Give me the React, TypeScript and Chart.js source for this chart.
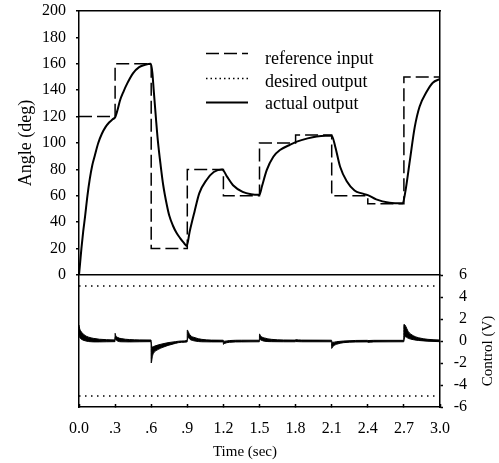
import React, { useEffect, useRef } from "react";
import { Chart, registerables } from "chart.js";

Chart.register(...registerables);

const SERIF = "'Liberation Serif', 'Times New Roman', serif";

// x-axis tick labels
const xTickLabels = ["0.0", ".3", ".6", ".9", "1.2", "1.5", "1.8", "2.1", "2.4", "2.7", "3.0"];

// reference input (step values, held until next time)
const refTime = [0, 0.3, 0.6, 0.9, 1.2, 1.5, 1.8, 2.1, 2.4, 2.7, 3.0];
const refAngle = [120, 160, 20, 80, 60, 100, 106, 60, 54, 150, 150];

// actual output angle (deg)
const outTime = [
  0, 0.01, 0.02, 0.035, 0.05, 0.07, 0.09, 0.11, 0.13, 0.16, 0.19, 0.22, 0.25, 0.28, 0.3,
  0.32, 0.34, 0.37, 0.4, 0.45, 0.5, 0.55, 0.597,
  0.61, 0.62, 0.64, 0.655, 0.68, 0.7, 0.73, 0.75, 0.78, 0.81, 0.84, 0.87, 0.895,
  0.92, 0.96, 1.0, 1.06, 1.12, 1.19,
  1.23, 1.28, 1.36, 1.43, 1.5,
  1.52, 1.56, 1.615, 1.67, 1.75, 1.81, 1.9, 1.975, 2.05, 2.1,
  2.13, 2.17, 2.225, 2.29, 2.35, 2.4, 2.47, 2.58, 2.69,
  2.71, 2.75, 2.79, 2.83, 2.89, 2.94, 3.0,
];
const outAngle = [
  0, 10, 20, 33, 44, 60, 73, 83, 90, 100, 107, 112, 115.5, 118, 119.5,
  125, 132, 139, 145, 153, 157.5, 159.3, 160,
  153, 141, 118, 102, 82, 68, 53, 45, 37.5, 32, 28, 24.5, 22,
  33, 48, 62, 72, 78, 80,
  74.5, 68, 63, 61.2, 60.8,
  67, 79.5, 89.6, 94.7, 98.5, 101, 103.5, 105, 105.5, 105.5,
  97, 82, 71, 64, 61.8, 60.5, 57.3, 54.8, 54.3,
  62, 87, 112, 127.5, 139, 145.7, 148.5,
];

// control signal band (V): upper and lower envelope of the chattering signal
const ctrlTime = [
  0, 0.005, 0.015, 0.03, 0.05, 0.08, 0.12, 0.17, 0.23, 0.299,
  0.3, 0.305, 0.32, 0.35, 0.42, 0.5, 0.599,
  0.6, 0.61, 0.62, 0.66, 0.69, 0.74, 0.8, 0.85, 0.899,
  0.9, 0.91, 0.922, 0.964, 1.02, 1.1, 1.199,
  1.2, 1.21, 1.25, 1.35, 1.499,
  1.5, 1.51, 1.54, 1.6, 1.7, 1.799,
  1.8, 1.85, 2.099,
  2.1, 2.11, 2.14, 2.2, 2.3, 2.399,
  2.4, 2.45, 2.699,
  2.7, 2.709, 2.737, 2.778, 2.82, 2.9, 3.0,
];
const ctrlUpper = [
  1.45, 1.15, 0.9, 0.7, 0.5, 0.35, 0.24, 0.16, 0.12, 0.1,
  0.7, 0.5, 0.33, 0.22, 0.13, 0.1, 0.09,
  -0.1, -0.55, -0.5, -0.35, -0.27, -0.15, -0.06, 0.0, 0.05,
  1.0, 0.8, 0.55, 0.3, 0.15, 0.08, 0.07,
  0.0, -0.02, 0.04, 0.07, 0.07,
  0.64, 0.45, 0.28, 0.15, 0.09, 0.08,
  0.12, 0.08, 0.07,
  0.0, -0.12, -0.06, 0.0, 0.05, 0.06,
  0.04, 0.06, 0.06,
  1.5, 1.45, 0.85, 0.48, 0.3, 0.15, 0.09,
];
const ctrlLower = [
  0.5, 0.35, 0.2, 0.1, 0.02, -0.05, -0.08, -0.08, -0.07, -0.06,
  0.3, 0.15, 0.0, -0.07, -0.08, -0.07, -0.06,
  -2.0, -1.4, -1.1, -0.76, -0.6, -0.4, -0.22, -0.12, -0.08,
  0.1, 0.3, 0.15, 0.0, -0.07, -0.08, -0.08,
  -0.3, -0.22, -0.12, -0.08, -0.07,
  0.15, 0.1, -0.02, -0.06, -0.07, -0.07,
  -0.05, -0.07, -0.07,
  -0.67, -0.5, -0.3, -0.15, -0.09, -0.08,
  -0.12, -0.08, -0.07,
  0.0, 0.4, 0.24, 0.12, 0.05, -0.02, -0.06,
];

// control saturation limits (V)
const limitTime = [0, 3];
const limitHigh = [5, 5];
const limitLow = [-5, -5];

const legendLabels = ["reference input", "desired output", "actual output"];
const xTitle = "Time (sec)";
const yTitle = "Angle (deg)";
const y2Title = "Control (V)";

const pts = (xs: number[], ys: number[]) => xs.map((x, i) => ({ x, y: ys[i] }));

const overlay = {
  id: "overlay",
  afterDraw(chart: any) {
    const { ctx, chartArea } = chart;
    const L = chartArea.left;
    const T = chartArea.top;
    ctx.save();
    ctx.strokeStyle = "#000";
    ctx.fillStyle = "#000";
    const dashes = [[13, 5], [1.5, 3], []];
    const lineY = [42.5, 67.5, 91.5];
    const textY = [53, 76, 98];
    for (let i = 0; i < 3; i++) {
      ctx.beginPath();
      ctx.setLineDash(dashes[i]);
      ctx.lineWidth = i === 2 ? 2 : 1.5;
      ctx.moveTo(L + 127, T + lineY[i]);
      ctx.lineTo(L + 169, T + lineY[i]);
      ctx.stroke();
    }
    ctx.setLineDash([]);
    ctx.font = `18px ${SERIF}`;
    ctx.textAlign = "left";
    ctx.textBaseline = "alphabetic";
    for (let i = 0; i < 3; i++) ctx.fillText(legendLabels[i], L + 186, T + textY[i]);

    ctx.font = `15px ${SERIF}`;
    ctx.textAlign = "center";
    ctx.textBaseline = "middle";
    ctx.fillText(xTitle, L + 166, chartArea.bottom + 45);

    ctx.translate(chartArea.right + 48, chartArea.bottom - 56);
    ctx.rotate(-Math.PI / 2);
    ctx.fillText(y2Title, 0, 0);
    ctx.restore();
  },
};

const fixW = (w: number) => (s: any) => {
  s.width = w;
  s.paddingTop = 0;
  s.paddingBottom = 0;
  s.paddingLeft = 0;
  s.paddingRight = 0;
};
const fixH = (h: number) => (s: any) => {
  s.height = h;
  s.paddingTop = 0;
  s.paddingBottom = 0;
  s.paddingLeft = 0;
  s.paddingRight = 0;
};

export default function App() {
  const ref = useRef<HTMLCanvasElement>(null);
  useEffect(() => {
    const font = { family: SERIF, size: 16 };
    const border = { display: true, color: "#000", width: 1.5 };
    const chart = new Chart(ref.current as HTMLCanvasElement, {
      type: "line",
      data: {
        datasets: [
          {
            label: "reference input",
            data: pts(refTime, refAngle),
            yAxisID: "yTop",
            stepped: "before",
            borderColor: "#000",
            borderWidth: 1.5,
            borderDash: [13, 5],
            pointRadius: 0,
            fill: false,
          },
          {
            label: "actual output",
            data: pts(outTime, outAngle),
            yAxisID: "yTop",
            borderColor: "#000",
            borderWidth: 2,
            cubicInterpolationMode: "monotone",
            pointRadius: 0,
            fill: false,
          },
          {
            label: "upper limit",
            data: pts(limitTime, limitHigh),
            yAxisID: "yBot",
            borderColor: "#000",
            borderWidth: 1.5,
            borderDash: [1.5, 4.5],
            pointRadius: 0,
            fill: false,
          },
          {
            label: "lower limit",
            data: pts(limitTime, limitLow),
            yAxisID: "yBot",
            borderColor: "#000",
            borderWidth: 1.5,
            borderDash: [1.5, 4.5],
            pointRadius: 0,
            fill: false,
          },
          {
            label: "control upper",
            data: pts(ctrlTime, ctrlUpper),
            yAxisID: "yBot",
            borderColor: "#000",
            backgroundColor: "#000",
            borderWidth: 1,
            cubicInterpolationMode: "monotone",
            pointRadius: 0,
            fill: "+1",
          },
          {
            label: "control lower",
            data: pts(ctrlTime, ctrlLower),
            yAxisID: "yBot",
            borderColor: "#000",
            borderWidth: 1,
            cubicInterpolationMode: "monotone",
            pointRadius: 0,
            fill: false,
          },
        ],
      },
      options: {
        animation: false,
        responsive: false,
        devicePixelRatio: 1,
        events: [],
        layout: { padding: { top: 11, right: 32, bottom: 0, left: 0 } },
        plugins: { legend: { display: false }, tooltip: { enabled: false } },
        scales: {
          x: {
            type: "linear",
            position: "bottom",
            min: 0,
            max: 3,
            afterFit: fixH(56),
            ticks: {
              stepSize: 0.3,
              autoSkip: false,
              maxRotation: 0,
              padding: 15,
              color: "#000",
              font,
              callback: (_v: any, i: number) => xTickLabels[i] ?? "",
            },
            grid: { drawOnChartArea: false, drawTicks: true, tickLength: -3, tickColor: "#000", tickWidth: 1.5 },
            border,
          },
          x2: {
            type: "linear",
            position: "top",
            min: 0,
            max: 3,
            afterFit: fixH(0),
            ticks: { display: false },
            grid: { drawOnChartArea: false, drawTicks: false },
            border,
          },
          yBotLeft: {
            type: "linear",
            position: "left",
            stack: "left",
            stackWeight: 1,
            min: 0,
            max: 1,
            afterFit: fixW(79),
            ticks: { display: false },
            grid: { drawOnChartArea: false, drawTicks: false },
            border,
          },
          yTop: {
            type: "linear",
            position: "left",
            stack: "left",
            stackWeight: 2,
            min: 0,
            max: 200,
            afterFit: fixW(79),
            ticks: { stepSize: 20, autoSkip: false, padding: 10, color: "#000", font },
            grid: {
              drawOnChartArea: true,
              color: (c: any) => (c.tick && c.tick.value === 0 ? "#000" : "rgba(0,0,0,0)"),
              lineWidth: 1.5,
              tickLength: 3,
              tickColor: "#000",
              tickWidth: 1.5,
            },
            border,
            title: {
              display: true,
              text: yTitle,
              color: "#000",
              font: { family: SERIF, size: 18 },
              padding: { top: 15, bottom: 0 },
            },
          },
          yTopRight: {
            type: "linear",
            position: "right",
            stack: "right",
            stackWeight: 2,
            min: 0,
            max: 1,
            afterFit: fixW(27),
            ticks: { display: false },
            grid: { drawOnChartArea: false, drawTicks: false },
            border,
          },
          yBot: {
            type: "linear",
            position: "right",
            stack: "right",
            stackWeight: 1,
            min: -6,
            max: 6,
            afterFit: fixW(27),
            ticks: { stepSize: 2, autoSkip: false, crossAlign: "far", padding: 8, color: "#000", font },
            grid: { drawOnChartArea: false, drawTicks: true, tickLength: 3, tickColor: "#000", tickWidth: 1.5 },
            border,
          },
        },
      } as any,
      plugins: [overlay],
    });
    return () => chart.destroy();
  }, []);

  return (
    <div style={{ position: "absolute", left: 0, top: 0, width: 499, height: 463, background: "#fff" }}>
      <canvas ref={ref} width={499} height={463} style={{ display: "block", width: 499, height: 463 }} />
    </div>
  );
}
